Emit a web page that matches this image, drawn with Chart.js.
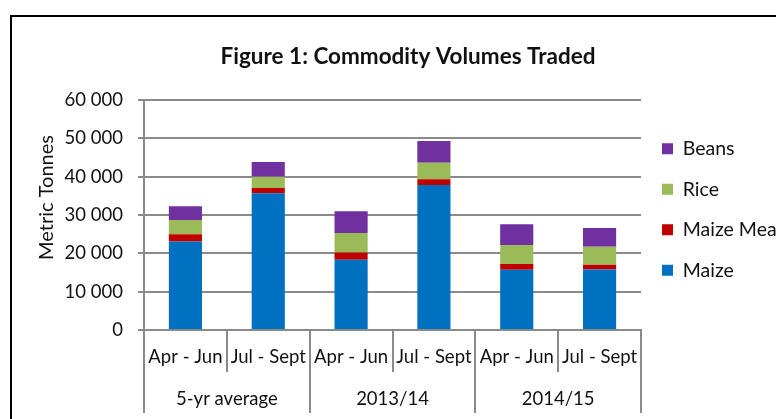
<!DOCTYPE html>
<html>
<head>
<meta charset="utf-8">
<script src="https://cdn.jsdelivr.net/npm/chart.js@4/dist/chart.umd.min.js"></script>
<style>
  html, body { margin: 0; padding: 0; background: #fff; overflow: hidden; }
  #wrap { position: relative; width: 776px; height: 419px; overflow: hidden; }
  #frame { position: absolute; left: 10px; top: 15px; width: 820px; height: 520px; border: 2px solid #000; box-sizing: border-box; }
  #c { position: absolute; left: 0; top: 0; z-index: 1; }
</style>
</head>
<body>
<div id="wrap">
  <div id="frame"></div>
  <canvas id="c" width="776" height="419"></canvas>
</div>
<script>
// ---- data ----
const categories = ['Apr - Jun', 'Jul - Sept', 'Apr - Jun', 'Jul - Sept', 'Apr - Jun', 'Jul - Sept'];
const groups = ['5-yr average', '2013/14', '2014/15'];
const maize     = [23100, 35650, 18350, 37800, 15750, 15800];
const maizeMeal = [1900, 1400, 1850, 1500, 1450, 1200];
const rice      = [3700, 2900, 5100, 4300, 5000, 4700];
const beans     = [3600, 3900, 5700, 5700, 5400, 4900];
const yMin = 0, yMax = 60000, yStep = 10000;
const titleText = 'Figure 1: Commodity Volumes Traded';
const yTitleText = 'Metric Tonnes';

const FONT = "Lato, 'Open Sans', sans-serif";
const GRID = '#8a8a8a';
const TXT = '#111';

const yTitlePlugin = {
  id: 'yTitle',
  afterDraw(chart) {
    const ctx = chart.ctx;
    ctx.save();
    ctx.font = '20px ' + FONT;
    ctx.fillStyle = TXT;
    ctx.textAlign = 'center';
    ctx.textBaseline = 'alphabetic';
    ctx.translate(53, 197.5);
    ctx.rotate(-Math.PI / 2);
    ctx.fillText(yTitleText, 0, 0);
    ctx.restore();
  }
};

new Chart(document.getElementById('c'), {
  type: 'bar',
  data: {
    labels: categories,
    datasets: [
      { label: 'Maize', data: maize, backgroundColor: '#0070C0' },
      { label: 'Maize Meal', data: maizeMeal, backgroundColor: '#C00000' },
      { label: 'Rice', data: rice, backgroundColor: '#9BBB59' },
      { label: 'Beans', data: beans, backgroundColor: '#7030A0' }
    ]
  },
  options: {
    responsive: false,
    animation: false,
    layout: { padding: { left: 40, right: 0, top: 0, bottom: 0 } },
    datasets: { bar: { barPercentage: 0.4, categoryPercentage: 1.0, borderWidth: 0 } },
    scales: {
      x: {
        type: 'category',
        stacked: true,
        offset: true,
        weight: 0,
        grid: { offset: true, drawOnChartArea: false, drawTicks: true, tickLength: 42, color: GRID, lineWidth: 2 },
        border: { display: true, color: GRID, width: 2 },
        ticks: { font: { family: FONT, size: 18.5 }, color: TXT, padding: -26.1, maxRotation: 0, autoSkip: false },
        afterFit(s) { s.height = 42; }
      },
      x2: {
        type: 'category',
        position: 'bottom',
        labels: groups,
        offset: true,
        weight: 1,
        grid: { offset: true, drawOnChartArea: false, drawTicks: true, tickLength: 41, color: GRID, lineWidth: 2 },
        border: { display: false },
        ticks: { font: { family: FONT, size: 18.5 }, color: TXT, padding: -25.1, maxRotation: 0, autoSkip: false },
        afterFit(s) { s.height = 47; }
      },
      y: {
        stacked: true,
        min: yMin,
        max: yMax,
        grid: { color: GRID, lineWidth: 2, tickLength: 6, drawTicks: true },
        border: { display: true, color: GRID, width: 2 },
        ticks: {
          stepSize: yStep,
          font: { family: FONT, size: 18.5 },
          color: TXT,
          padding: 15,
          callback: (v) => Number(v).toLocaleString('en-US').replace(/,/g, ' ')
        },
        afterFit(s) { s.width = 104; }
      }
    },
    plugins: {
      title: {
        display: true,
        text: titleText,
        font: { family: FONT, size: 22.5, weight: 'bold' },
        color: TXT,
        padding: { top: 43, bottom: 30 }
      },
      legend: {
        display: true,
        position: 'right',
        reverse: true,
        maxWidth: 135,
        labels: {
          boxWidth: 11,
          boxHeight: 11,
          padding: 21,
          font: { family: FONT, size: 19.5 },
          color: TXT
        }
      },
      tooltip: { enabled: false }
    }
  },
  plugins: [yTitlePlugin]
});
</script>
</body>
</html>
